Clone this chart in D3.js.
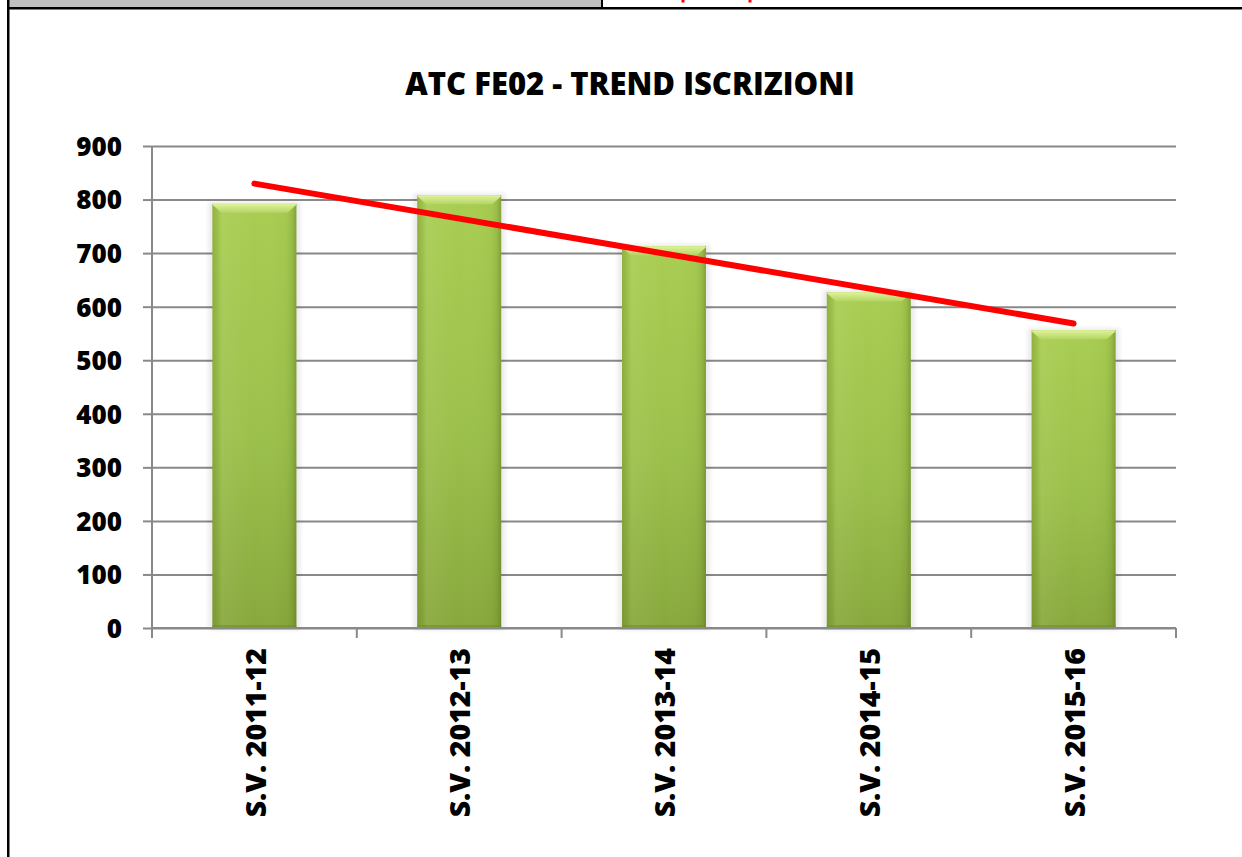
<!DOCTYPE html>
<html>
<head>
<meta charset="utf-8">
<script src="https://cdn.jsdelivr.net/npm/d3@7/dist/d3.min.js"></script>
<style>
  html, body { margin: 0; padding: 0; background: #fff; }
  svg { display: block; }
  text { font-family: "Open Sans", "DejaVu Sans", sans-serif; font-weight: 800; fill: #000; }
</style>
</head>
<body>
<svg id="chart" width="1242" height="857"></svg>
<script>
// Iscrizioni per stagione venatoria
const categories = ["S.V. 2011-12", "S.V. 2012-13", "S.V. 2013-14", "S.V. 2014-15", "S.V. 2015-16"];
const iscritti = [792, 808, 713, 627, 556];
const yTicks = [0, 100, 200, 300, 400, 500, 600, 700, 800, 900];
const titolo = "ATC FE02 - TREND ISCRIZIONI";

const W = 1242, H = 857;
const plot = { left: 152, right: 1176, top: 146, bottom: 628 };

const svg = d3.select("#chart");
const defs = svg.append("defs");

// ---- page frame (header strip of the sheet) ----
svg.append("rect").attr("x", 9).attr("y", 0).attr("width", 592).attr("height", 7).attr("fill", "#c0c0c0");
svg.append("rect").attr("x", 601).attr("y", 0).attr("width", 2).attr("height", 8).attr("fill", "#000");
svg.append("rect").attr("x", 7).attr("y", 7).attr("width", W - 7).attr("height", 2.5).attr("fill", "#000");
svg.append("rect").attr("x", 7).attr("y", 0).attr("width", 2.5).attr("height", H).attr("fill", "#000");
// tails of the red header caption, cut by the page edge
[683, 750].forEach(px => {
  svg.append("rect").attr("x", px - 1.5).attr("y", 0).attr("width", 3).attr("height", 2.5).attr("fill", "#ff0000");
});

// ---- scales ----
const x = d3.scaleBand()
  .domain(categories)
  .range([plot.left, plot.right])
  .paddingInner(0.59)
  .paddingOuter(0.295);

const y = d3.scaleLinear().domain([0, 900]).range([plot.bottom, plot.top]);

// ---- gradients for the bevelled bars ----
const body = defs.append("linearGradient").attr("id", "barBody")
  .attr("x1", 0).attr("y1", 0).attr("x2", 0).attr("y2", 1);
body.append("stop").attr("offset", "0%").attr("stop-color", "#a9cd52");
body.append("stop").attr("offset", "55%").attr("stop-color", "#9cc04b");
body.append("stop").attr("offset", "100%").attr("stop-color", "#88a83d");

const sides = defs.append("linearGradient").attr("id", "barSides")
  .attr("x1", 0).attr("y1", 0).attr("x2", 1).attr("y2", 0);
[["0%", "#55701c", 0.3], ["7%", "#55701c", 0.1], ["12%", "#ffffff", 0.06],
 ["50%", "#ffffff", 0.0], ["88%", "#55701c", 0.05], ["94%", "#55701c", 0.16], ["100%", "#3d5512", 0.36]]
  .forEach(([o, c, a]) => sides.append("stop").attr("offset", o).attr("stop-color", c).attr("stop-opacity", a));

const topBevel = defs.append("linearGradient").attr("id", "barTop")
  .attr("x1", 0).attr("y1", 0).attr("x2", 0).attr("y2", 1);
topBevel.append("stop").attr("offset", "0%").attr("stop-color", "#e0f39c");
topBevel.append("stop").attr("offset", "100%").attr("stop-color", "#b3d562");

const blur = defs.append("filter").attr("id", "soft").attr("x", "-20%").attr("y", "-20%").attr("width", "140%").attr("height", "140%");
blur.append("feGaussianBlur").attr("stdDeviation", 2.2);

// ---- gridlines ----
svg.append("g")
  .attr("transform", `translate(${plot.left},0)`)
  .call(d3.axisLeft(y).tickValues(yTicks).tickSize(-(plot.right - plot.left)).tickFormat(""))
  .call(g => g.select(".domain").remove())
  .call(g => g.selectAll(".tick line").attr("stroke", "#898989").attr("stroke-width", 2));

// ---- bars ----
const bw = x.bandwidth();
const bars = svg.append("g").selectAll("g").data(categories).join("g");

bars.append("rect")
  .attr("x", d => x(d) - 4).attr("y", (d, i) => y(iscritti[i]) - 2)
  .attr("width", bw + 8).attr("height", (d, i) => y(0) - y(iscritti[i]) + 4)
  .attr("fill", "#000").attr("opacity", 0.08).attr("filter", "url(#soft)");

bars.append("rect")
  .attr("x", d => x(d)).attr("y", (d, i) => y(iscritti[i]))
  .attr("width", bw).attr("height", (d, i) => y(0) - y(iscritti[i]))
  .attr("fill", "url(#barBody)");

bars.append("rect")
  .attr("x", d => x(d)).attr("y", (d, i) => y(iscritti[i]))
  .attr("width", bw).attr("height", (d, i) => y(0) - y(iscritti[i]))
  .attr("fill", "url(#barSides)");

const bev = 9;
bars.append("path")
  .attr("d", (d, i) => {
    const x0 = x(d), x1 = x(d) + bw, t = y(iscritti[i]);
    return `M${x0},${t + 1}Q${x0},${t} ${x0 + 2},${t}L${x1 - 2},${t}Q${x1},${t} ${x1},${t + 1}L${x1 - bev},${t + bev}L${x0 + bev},${t + bev}Z`;
  })
  .attr("fill", "url(#barTop)");

bars.append("rect")
  .attr("x", d => x(d)).attr("y", (d, i) => y(0) - 3)
  .attr("width", bw).attr("height", 3)
  .attr("fill", "#6f8c2e").attr("opacity", 0.55);

// ---- y axis ----
svg.append("g")
  .attr("transform", `translate(${plot.left},0)`)
  .call(d3.axisLeft(y).tickValues(yTicks).tickSize(9).tickPadding(21))
  .call(g => g.select(".domain").attr("stroke", "#898989").attr("stroke-width", 2)
    .attr("d", `M0,${plot.top}V${plot.bottom + 10}`))
  .call(g => g.selectAll(".tick line").attr("stroke", "#898989").attr("stroke-width", 2))
  .call(g => g.selectAll(".tick text")
    .style("font-family", "'Open Sans', sans-serif").style("font-weight", 800)
    .attr("font-size", 26).attr("fill", "#000").attr("dy", "0.36em"));

// ---- x axis ----
const bounds = d3.range(categories.length + 1).map(i => plot.left + i * x.step());
const xAxis = svg.append("g");
xAxis.append("line")
  .attr("x1", plot.left).attr("x2", plot.right)
  .attr("y1", y(0)).attr("y2", y(0))
  .attr("stroke", "#898989").attr("stroke-width", 2);
xAxis.selectAll("line.tk").data(bounds).join("line").attr("class", "tk")
  .attr("x1", d => d).attr("x2", d => d)
  .attr("y1", y(0)).attr("y2", y(0) + 10)
  .attr("stroke", "#898989").attr("stroke-width", 2);

xAxis.selectAll("text").data(categories).join("text")
  .attr("transform", d => `translate(${x(d) + bw / 2 + 1},${y(0) + 20}) rotate(-90)`)
  .attr("text-anchor", "end")
  .attr("dy", "0.36em")
  .attr("font-size", 28.5)
  .text(d => d);

// ---- linear trend line ----
const n = iscritti.length;
const xs = d3.range(1, n + 1);
const mx = d3.mean(xs), my = d3.mean(iscritti);
const slope = d3.sum(xs, (v, i) => (v - mx) * (iscritti[i] - my)) / d3.sum(xs, v => (v - mx) * (v - mx));
const icpt = my - slope * mx;
const trend = categories.map((c, i) => [x(c) + bw / 2, y(icpt + slope * (i + 1))]);

svg.append("path")
  .datum([trend[0], trend[n - 1]])
  .attr("d", d3.line())
  .attr("fill", "none")
  .attr("stroke", "#ff0000")
  .attr("stroke-width", 6)
  .attr("stroke-linecap", "round");

// ---- title ----
svg.append("text")
  .attr("x", 630).attr("y", 95)
  .attr("text-anchor", "middle")
  .attr("font-size", 31)
  .text(titolo);
</script>
</body>
</html>
